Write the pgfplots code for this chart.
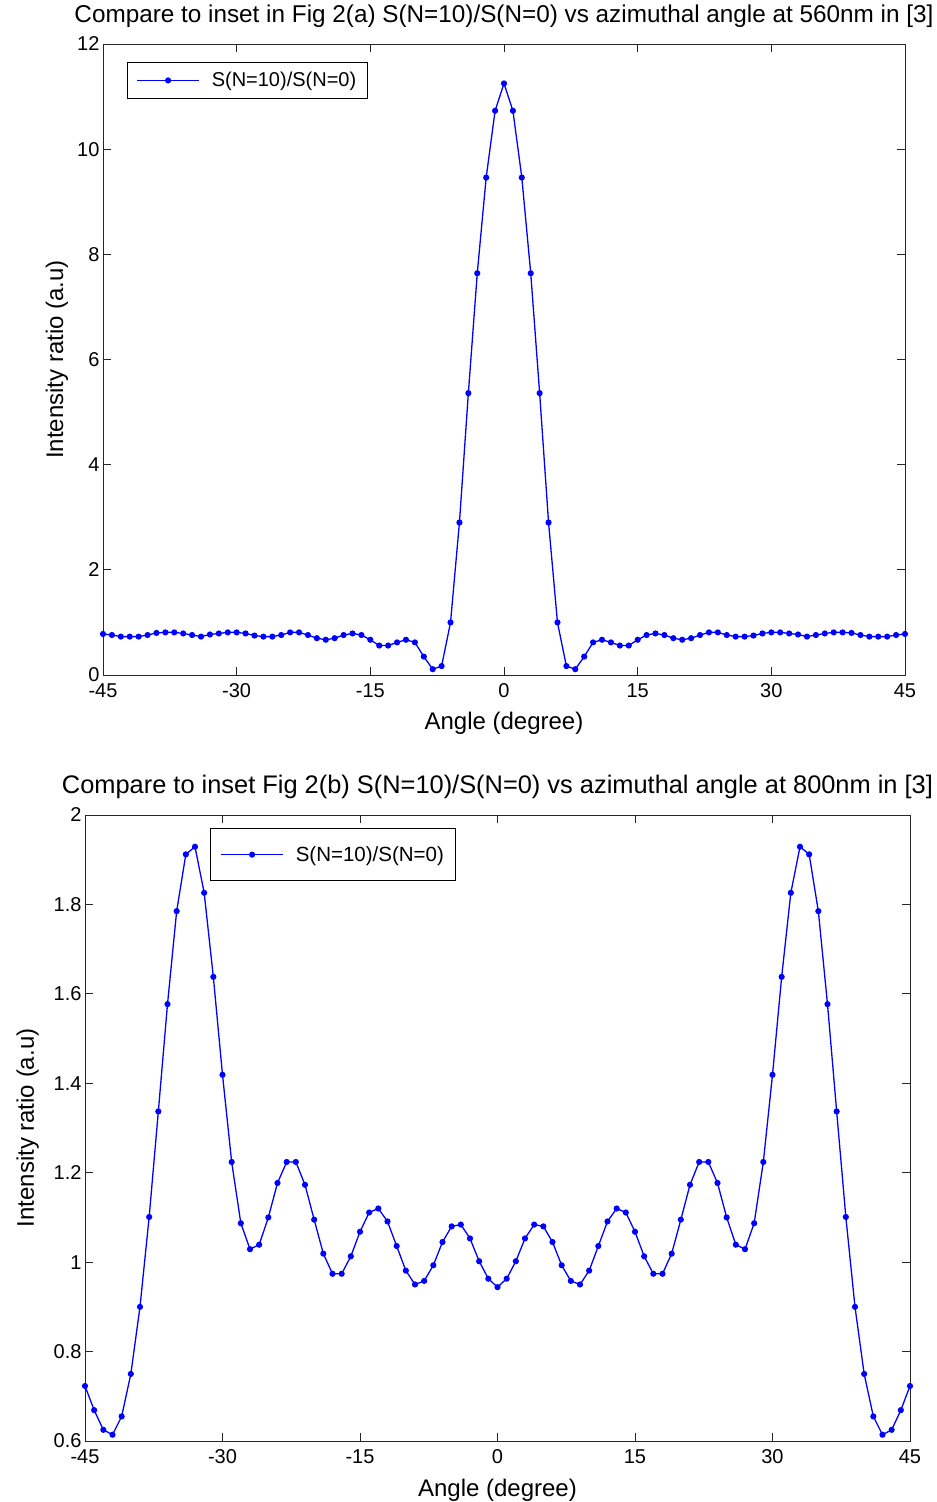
\documentclass[border=0pt]{standalone}
\usepackage{fontspec}
\setmainfont{Liberation Sans}
\usepackage{pgfplots}
\pgfplotsset{compat=1.18}
\usepackage{pgfplotstable}

\pgfplotstableread{
x y
-45 0.78
-44 0.76
-43 0.73
-42 0.73
-41 0.73
-40 0.76
-39 0.80
-38 0.81
-37 0.81
-36 0.79
-35 0.76
-34 0.73
-33 0.77
-32 0.79
-31 0.81
-30 0.81
-29 0.79
-28 0.75
-27 0.73
-26 0.73
-25 0.76
-24 0.81
-23 0.81
-22 0.76
-21 0.70
-20 0.67
-19 0.70
-18 0.76
-17 0.79
-16 0.76
-15 0.67
-14 0.56
-13 0.56
-12 0.62
-11 0.67
-10 0.62
-9 0.35
-8 0.11
-7 0.17
-6 1.00
-5 2.90
-4 5.36
-3 7.64
-2 9.46
-1 10.73
0 11.25
1 10.73
2 9.46
3 7.64
4 5.36
5 2.90
6 1.00
7 0.17
8 0.11
9 0.35
10 0.62
11 0.67
12 0.62
13 0.56
14 0.56
15 0.67
16 0.76
17 0.79
18 0.76
19 0.70
20 0.67
21 0.70
22 0.76
23 0.81
24 0.81
25 0.76
26 0.73
27 0.73
28 0.75
29 0.79
30 0.81
31 0.81
32 0.79
33 0.77
34 0.73
35 0.76
36 0.79
37 0.81
38 0.81
39 0.80
40 0.76
41 0.73
42 0.73
43 0.73
44 0.76
45 0.78
}\dataA

\pgfplotstableread{
x y
-45 0.723
-44 0.669
-43 0.625
-42 0.614
-41 0.655
-40 0.750
-39 0.900
-38 1.101
-37 1.337
-36 1.577
-35 1.785
-34 1.912
-33 1.929
-32 1.826
-31 1.638
-30 1.419
-29 1.224
-28 1.087
-27 1.029
-26 1.039
-25 1.100
-24 1.177
-23 1.224
-22 1.224
-21 1.173
-20 1.095
-19 1.019
-18 0.974
-17 0.974
-16 1.013
-15 1.068
-14 1.111
-13 1.120
-12 1.091
-11 1.036
-10 0.981
-9 0.950
-8 0.958
-7 0.993
-6 1.045
-5 1.080
-4 1.084
-3 1.053
-2 1.002
-1 0.963
0 0.944
1 0.963
2 1.002
3 1.053
4 1.084
5 1.080
6 1.045
7 0.993
8 0.958
9 0.950
10 0.981
11 1.036
12 1.091
13 1.120
14 1.111
15 1.068
16 1.013
17 0.974
18 0.974
19 1.019
20 1.095
21 1.173
22 1.224
23 1.224
24 1.177
25 1.100
26 1.039
27 1.029
28 1.087
29 1.224
30 1.419
31 1.638
32 1.826
33 1.929
34 1.912
35 1.785
36 1.577
37 1.337
38 1.101
39 0.900
40 0.750
41 0.655
42 0.614
43 0.625
44 0.669
45 0.723
}\dataB

\pgfplotsset{
  mlab/.style={
    scale only axis,
    anchor=south west,
    xmin=-45, xmax=45,
    xtick={-45,-30,-15,0,15,30,45},
    tick align=inside,
    major tick length=8pt,
    axis line style={line width=0.9pt, black!85},
    tick style={line width=0.8pt, black!85},
    /pgf/number format/assume math mode=true,
    tick label style={font=\fontsize{20}{20}\selectfont},
    xticklabel style={yshift=-5pt},
    label style={font=\fontsize{24}{24}\selectfont},
    title style={at={(0.5,1)}, anchor=base, yshift=15pt},
    xlabel={Angle (degree)},
    xlabel style={at={(0.5,0)}, anchor=base, yshift=-55pt},
    ylabel={Intensity ratio (a.u)},
    legend cell align=left,
    legend image code/.code={\draw[mark repeat=2,mark phase=2,#1] plot coordinates {(0pt,0pt) (31pt,0pt) (62pt,0pt)};},
  },
  curve/.style={blue, line width=1.3pt, mark=*, mark size=2.4pt, mark options={fill=blue, draw=blue}},
}

\begin{document}
\begin{tikzpicture}
\path[use as bounding box] (0,0) rectangle (937pt,1502pt);
\begin{axis}[mlab,
  at={(103pt,827pt)}, width=802pt, height=631pt,
  ymin=0, ymax=12, ytick={0,2,...,12},
  title={Compare to inset in Fig 2(a) S(N=10)/S(N=0) vs azimuthal angle at 560nm in [3]},
  title style={font=\fontsize{24.3}{24.3}\selectfont},
  ylabel style={at={([xshift=-40pt]axis description cs:0,0.5)}, anchor=base, rotate=0},
  legend style={at={([xshift=24pt,yshift=-18pt]axis description cs:0,1)}, anchor=north west,
    draw=black, line width=0.9pt, font=\fontsize{20}{20}\selectfont,
    inner xsep=9pt, inner ysep=8pt, column sep=10pt},
]
\addplot[curve] table[x=x,y=y] {\dataA};
\addlegendentry{S(N=10)/S(N=0)}
\end{axis}

\begin{axis}[mlab,
  at={(85pt,61pt)}, width=825pt, height=626pt,
  ymin=0.6, ymax=2, ytick={0.6,0.8,1,1.2,1.4,1.6,1.8,2},
  title={Compare to inset Fig 2(b) S(N=10)/S(N=0) vs azimuthal angle at 800nm in [3]},
  title style={font=\fontsize{25.4}{25.4}\selectfont},
  ylabel style={at={([xshift=-51pt]axis description cs:0,0.5)}, anchor=base, rotate=0},
  legend style={at={([xshift=125pt,yshift=-13pt]axis description cs:0,1)}, anchor=north west,
    draw=black, line width=0.9pt, font=\fontsize{20.5}{20.5}\selectfont,
    inner xsep=10pt, inner ysep=16pt, column sep=10pt},
]
\addplot[curve] table[x=x,y=y] {\dataB};
\addlegendentry{S(N=10)/S(N=0)}
\end{axis}
\end{tikzpicture}
\end{document}
